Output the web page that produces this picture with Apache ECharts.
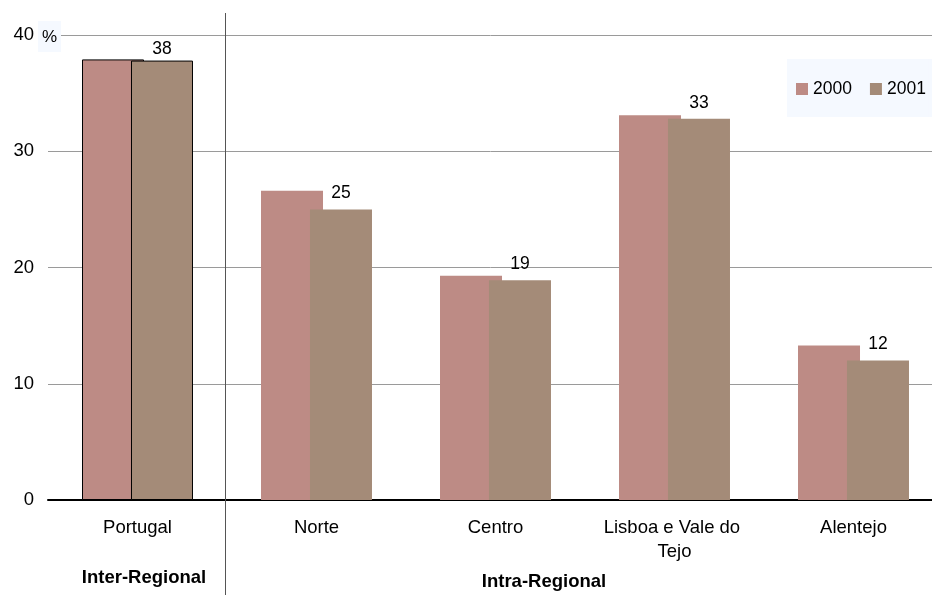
<!DOCTYPE html>
<html>
<head>
<meta charset="utf-8">
<script src="https://cdn.jsdelivr.net/npm/echarts@6/dist/echarts.min.js"></script>
<style>
html,body{margin:0;padding:0;background:#fff;}
#chart{width:932px;height:595px;}
</style>
</head>
<body>
<div id="chart"></div>
<script>
const categories = ['Portugal', 'Norte', 'Centro', 'Lisboa e Vale do Tejo', 'Alentejo'];
const seriesNames = ['2000', '2001'];
const values2000 = [37.9, 26.6, 19.3, 33.1, 13.3];
const values2001 = [37.8, 25.0, 18.9, 32.8, 12.0];
const yTicks = [0, 10, 20, 30, 40];
const groupLabels = ['Inter-Regional', 'Intra-Regional'];

const FONT = '"Liberation Sans", Arial, sans-serif';
const colors = ['#bd8b85', '#a48b78'];

function withBorder(arr, extraFirst) {
  return arr.map((v, i) => i === 0
    ? Object.assign({ value: v, itemStyle: { borderColor: '#000', borderWidth: 1 } }, extraFirst || {})
    : v);
}

const chart = echarts.init(document.getElementById('chart'), null, { renderer: 'canvas' });
chart.setOption({
  animation: false,
  backgroundColor: '#fff',
  textStyle: { fontFamily: FONT },
  grid: { left: 48, top: 35, width: 895, height: 465, containLabel: false, outerBoundsMode: 'none' },
  legend: {
    data: seriesNames,
    left: 787, top: 59,
    orient: 'horizontal',
    backgroundColor: '#f5f9ff',
    padding: [21, 3, 19, 9],
    itemWidth: 12, itemHeight: 12, itemGap: 18,
    icon: 'rect',
    textStyle: { fontFamily: FONT, fontSize: 17.5, color: '#000', padding: [0, 0, 0, 0] }
  },
  xAxis: {
    type: 'category',
    data: categories,
    axisLine: { show: true, lineStyle: { color: '#000', width: 2 } },
    axisTick: { show: false },
    axisLabel: {
      fontFamily: FONT, fontSize: 18.5, color: '#000', margin: 16,
      lineHeight: 24, width: 150, overflow: 'break', interval: 0
    }
  },
  yAxis: {
    type: 'value', min: yTicks[0], max: yTicks[yTicks.length - 1], interval: 10,
    axisLine: { show: false },
    axisTick: { show: false },
    axisLabel: { fontFamily: FONT, fontSize: 18.5, color: '#000', margin: 14 },
    splitLine: { show: true, lineStyle: { color: '#9a9a9a', width: 1 } }
  },
  series: [
    {
      name: seriesNames[0], type: 'bar', data: withBorder(values2000),
      barWidth: 62, barGap: '-21%',
      itemStyle: { color: colors[0] }
    },
    {
      name: seriesNames[1], type: 'bar', data: withBorder(values2001, { label: { distance: 2 } }),
      barWidth: 62,
      itemStyle: { color: colors[1] },
      label: {
        show: true, position: 'top', distance: 7,
        fontFamily: FONT, fontSize: 17.5, color: '#000',
        formatter: p => Math.round(p.value)
      }
    }
  ],
  graphic: [
    {
      type: 'line', z: 100,
      shape: { x1: 225.5, y1: 13, x2: 225.5, y2: 595 },
      style: { stroke: '#555', lineWidth: 1 }
    },
    {
      type: 'rect', z: 100,
      shape: { x: 38, y: 21, width: 23, height: 31 },
      style: { fill: '#f5f9ff' }
    },
    {
      type: 'rect', z: 0,
      shape: { x: 900, y: 59, width: 40, height: 58 },
      style: { fill: '#f5f9ff' }
    },
    {
      type: 'text', z: 101,
      x: 49.5, y: 37,
      style: { text: '%', fontFamily: FONT, fontSize: 17, fill: '#000', align: 'center', verticalAlign: 'middle' }
    },
    {
      type: 'text', z: 101,
      x: 144, y: 578,
      style: { text: groupLabels[0], fontFamily: FONT, fontSize: 18.5, fontWeight: 'bold', fill: '#000', align: 'center', verticalAlign: 'middle' }
    },
    {
      type: 'text', z: 101,
      x: 544, y: 582,
      style: { text: groupLabels[1], fontFamily: FONT, fontSize: 18.5, fontWeight: 'bold', fill: '#000', align: 'center', verticalAlign: 'middle' }
    }
  ]
});
</script>
</body>
</html>
